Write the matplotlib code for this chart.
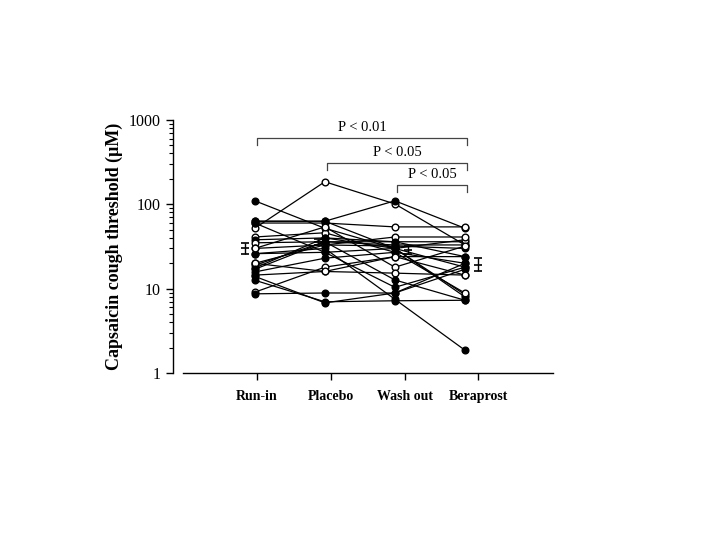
import numpy as np
import matplotlib.pyplot as plt

plt.rcParams['font.family'] = ['Liberation Serif', 'DejaVu Serif']

# Individual capsaicin thresholds (uM): run-in, placebo, wash out, beraprost
periods = ['Run-in', 'Placebo', 'Wash out', 'Beraprost']
run_in    = [110, 52, 63, 60, 63, 41, 38, 35, 30, 26, 20, 19, 17.6, 15.8, 14.5, 12.6, 14, 9.1, 8.7, 26, 30, 20, 17, 60]
placebo   = [52, 185, 63, 60, 63, 46, 40, 36, 33, 27, 33, 36, 40, 23, 16, 7.0, 6.8, 18, 8.9, 30, 54, 16, 36, 27]
wash_out  = [30, 101, 110, 54, 30, 27, 36, 33, 32, 30, 41, 36, 30, 27, 24, 7.2, 8.9, 24, 8.9, 7.5, 18, 15.3, 12.7, 10.4]
beraprost = [8.0, 33, 52, 54, 8.5, 8.9, 36, 33, 30, 38, 41, 24, 18, 20, 24, 7.3, 17, 14.5, 20, 1.87, 32, 14.5, 7.3, 18]
filled    = [1, 0, 1, 0, 1, 0, 1, 0, 1, 0, 0, 1, 1, 1, 1, 1, 1, 0, 1, 1, 0, 0, 1, 1]

# group mean and SE bars
means  = [30, 36, 29, 19]
se_lo  = [4, 3, 3, 3]
se_hi  = [5, 3, 3, 4]

comparisons = [('Run-in', 'Beraprost', 'P < 0.01'),
               ('Placebo', 'Beraprost', 'P < 0.05'),
               ('Wash out', 'Beraprost', 'P < 0.05')]

xpos = np.arange(len(periods))
tick_pos = xpos + np.array([0.03, 0.09, 0.14, 0.19])
mean_pos = xpos + np.array([-0.14, -0.10, 0.19, 0.19])

fig = plt.figure(figsize=(7.2, 5.4), dpi=100)
ax = fig.add_axes([0.240, 0.309, 0.528, 0.469])

data = np.array([run_in, placebo, wash_out, beraprost]).T
for row, f in zip(data, filled):
    ax.plot(xpos, row, '-o', color='black', lw=0.9, ms=4.8, mew=1.0,
            mfc='black' if f else 'white', mec='black', zorder=3)

ax.errorbar(mean_pos, means, yerr=[se_lo, se_hi], fmt='_', color='black',
            ms=6, mew=1.2, elinewidth=1.0, capsize=3, capthick=1.0, zorder=4)

ax.set_yscale('log')
ax.set_ylim(1, 1000)
ax.set_xlim(-1.171, 4.257)
ax.set_yticks([1, 10, 100, 1000])
ax.set_yticklabels(['1', '10', '100', '1000'], fontsize=11.5)
ax.set_xticks(tick_pos)
ax.set_xticklabels(periods, fontsize=10, fontweight='bold')
ax.tick_params(axis='y', which='major', direction='out', length=5, width=1)
ax.tick_params(axis='y', which='minor', direction='out', length=3, width=0.8)
ax.tick_params(axis='x', direction='out', length=5, width=1, pad=7)
ax.set_ylabel('Capsaicin cough threshold (\u03bcM)', fontsize=13, fontweight='bold')

ax.spines['top'].set_visible(False)
ax.spines['right'].set_visible(False)
ax.spines['bottom'].set_bounds(-1.03, 4.257)
ax.spines['left'].set_linewidth(1.0)
ax.spines['bottom'].set_linewidth(1.0)

# significance brackets
bar_levels = [(614, 507), (310, 256), (170, 140)]
for (a, b, label), (top, leg) in zip(comparisons, bar_levels):
    x1, x2 = xpos[periods.index(a)], xpos[periods.index(b)]
    x1 += 0.03
    x2 += 0.03
    ax.plot([x1, x1, x2, x2], [leg, top, top, leg], color='#444444', lw=0.9)
    ax.text((x1 + x2) / 2, top * 1.1, label, ha='center', va='bottom', fontsize=10.5)

fig.savefig('out.png', dpi=100)
